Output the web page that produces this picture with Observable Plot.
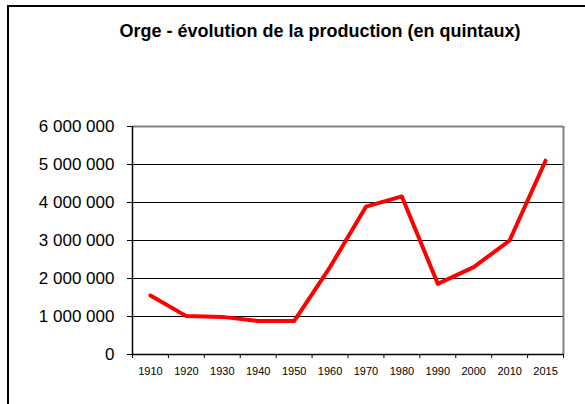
<!DOCTYPE html>
<html>
<head>
<meta charset="utf-8">
<script src="https://cdn.jsdelivr.net/npm/d3@7"></script>
<script src="https://cdn.jsdelivr.net/npm/@observablehq/plot@0.6"></script>
<style>
  html, body { margin: 0; padding: 0; background: #fff; }
  #wrap { position: relative; width: 585px; height: 404px; overflow: hidden; font-family: Arial, "Liberation Sans", sans-serif; }
  #frame { position: absolute; left: 7px; top: 5px; right: -4px; bottom: -4px; border-left: 2px solid #000; border-top: 2px solid #000; }
  #title { position: absolute; left: 0; width: 640px; top: 20px; text-align: center; font-weight: bold; font-size: 18px; line-height: 22px; color: #000; }
  #chart { position: absolute; left: 0; top: 0; }
</style>
</head>
<body>
<div id="wrap">
  <div id="frame"></div>
  <div id="title">Orge - évolution de la production (en quintaux)</div>
  <div id="chart"></div>
</div>
<script>
const years = ["1910","1920","1930","1940","1950","1960","1970","1980","1990","2000","2010","2015"];
const production = [1550000, 1010000, 990000, 880000, 880000, 2300000, 3890000, 4160000, 1860000, 2300000, 3000000, 5100000];
const yTicks = [0, 1000000, 2000000, 3000000, 4000000, 5000000, 6000000];
const gridLines = [1000000, 2000000, 3000000, 4000000, 5000000];

const data = years.map((y, i) => ({year: y, idx: i + 0.5, value: production[i]}));
const boundaries = d3.range(years.length + 1);
const fmt = v => d3.format(",")(v).replace(/,/g, "\u00a0");

const chart = Plot.plot({
  width: 585,
  height: 404,
  marginLeft: 132,
  marginRight: 22,
  marginTop: 126,
  marginBottom: 50,
  style: {fontFamily: "Arial, 'Liberation Sans', sans-serif", background: "transparent", color: "#000"},
  x: {type: "linear", domain: [0, years.length], axis: null},
  y: {domain: [0, 6000000], axis: null},
  marks: [
    Plot.ruleY(gridLines, {stroke: "#000", strokeWidth: 1}),
    Plot.ruleY([6000000], {stroke: "#808080", strokeWidth: 2}),
    Plot.ruleX([years.length], {y1: 0, y2: 6000000, stroke: "#808080", strokeWidth: 2}),
    Plot.ruleY([0], {stroke: "#000", strokeWidth: 1.5}),
    Plot.ruleX([0], {y1: 0, y2: 6000000, stroke: "#000", strokeWidth: 1.5}),
    Plot.axisY({ticks: yTicks, tickSize: 5, tickPadding: 13, fontSize: 17, tickFormat: fmt, stroke: "#000", strokeOpacity: 1, label: null}),
    Plot.axisX({ticks: boundaries, tickSize: 4, tickFormat: () => "", stroke: "#000", strokeOpacity: 1, label: null}),
    Plot.axisX({ticks: data.map(d => d.idx), tickSize: 0, tickPadding: 13, fontSize: 11, tickFormat: v => years[Math.round(v - 0.5)], label: null}),
    Plot.line(data, {x: "idx", y: "value", stroke: "#ff0000", strokeWidth: 4, strokeLinejoin: "round", strokeLinecap: "round"})
  ]
});
document.getElementById("chart").appendChild(chart);
</script>
</body>
</html>
